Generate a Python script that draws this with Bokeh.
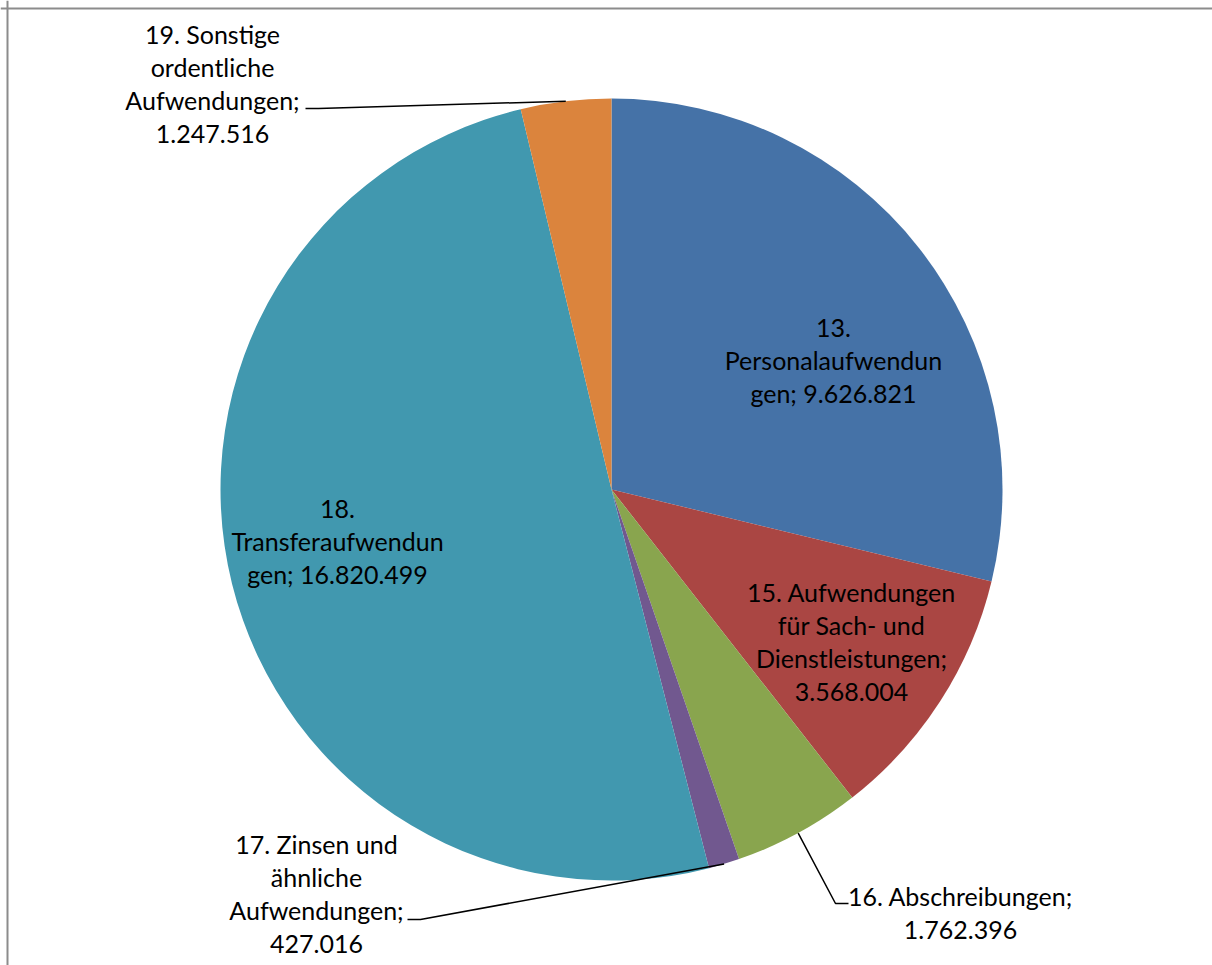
import math
from bokeh.plotting import figure
from bokeh.models import Range1d, Span, ColumnDataSource
from bokeh.core.properties import value
from bokeh.embed import file_html
from bokeh.resources import INLINE

# ---- data ----
categories = [
    "13. Personalaufwendungen",
    "15. Aufwendungen für Sach- und Dienstleistungen",
    "16. Abschreibungen",
    "17. Zinsen und ähnliche Aufwendungen",
    "18. Transferaufwendungen",
    "19. Sonstige ordentliche Aufwendungen",
]
values = [9626821, 3568004, 1762396, 427016, 16820499, 1247516]
label_texts = [
    "13.\nPersonalaufwendun\ngen; 9.626.821",
    "15. Aufwendungen\nfür Sach- und\nDienstleistungen;\n3.568.004",
    "16. Abschreibungen;\n1.762.396",
    "17. Zinsen und\nähnliche\nAufwendungen;\n427.016",
    "18.\nTransferaufwendun\ngen; 16.820.499",
    "19. Sonstige\nordentliche\nAufwendungen;\n1.247.516",
]
colors = ["#4572A7", "#AA4643", "#89A54E", "#71588F", "#4198AF", "#DB843D"]

# ---- layout (pixels; data units == screen pixels) ----
W, H = 1212, 965
CX, CY = 611, 489          # pie centre inside the figure, from top-left
R = 391
FONT = "Lato"
FONT_SIZE = "25px"

# label block centres relative to pie centre (x right, y up)
label_pos = [(222, 130), (240, -152), (349, -423), (-295, -404), (-274, -51), (-399, 406)]
# leader lines for outside labels: index -> (elbow, end)
leaders = {
    2: ((224, -414), (237, -414)),
    3: ((-191, -430), (-204, -430)),
    5: ((-293, 381), (-306, 381)),
}

total = float(sum(values))
starts, ends, mids = [], [], []
cum = 0.0
for v in values:
    a0 = math.pi / 2 - 2 * math.pi * cum / total
    cum += v
    a1 = math.pi / 2 - 2 * math.pi * cum / total
    starts.append(a0)
    ends.append(a1)
    mids.append((a0 + a1) / 2)

p = figure(width=W, height=H, output_backend="svg", toolbar_location=None,
           x_range=Range1d(-CX, W - CX), y_range=Range1d(-(H - CY), CY),
           min_border=0)
p.axis.visible = False
p.grid.visible = False
p.outline_line_color = None
p.background_fill_color = "white"
p.border_fill_color = "white"

src = ColumnDataSource(dict(start=starts, end=ends, color=colors, cat=categories, val=values))
p.wedge(x=0, y=0, radius=R, start_angle="start", end_angle="end", direction="clock",
        fill_color="color", line_color=None, source=src)

# leader lines
xs, ys = [], []
for i, (elbow, end) in leaders.items():
    sx = R * math.cos(mids[i])
    sy = R * math.sin(mids[i])
    xs.append([sx, elbow[0], end[0]])
    ys.append([sy, elbow[1], end[1]])
p.multi_line(xs=xs, ys=ys, line_color="black", line_width=1.5)

# labels
p.text(x=[lp[0] for lp in label_pos], y=[lp[1] for lp in label_pos], text=label_texts,
       text_font=value(FONT), text_font_size=FONT_SIZE, text_color="black",
       text_align="center", text_baseline="middle", text_line_height=1.10)

# chart border (left and top visible)
p.add_layout(Span(location=-CX + 7, dimension="height", line_color="#8c8c8c", line_width=2))
p.add_layout(Span(location=CY - 8, dimension="width", line_color="#8c8c8c", line_width=2))

open("out.html", "w").write(file_html(p, INLINE))
